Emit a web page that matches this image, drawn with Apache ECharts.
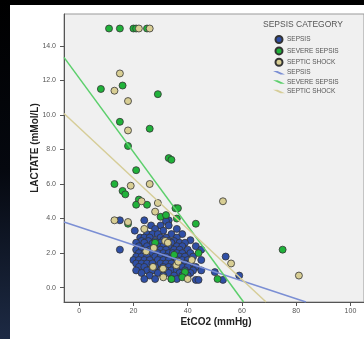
<!DOCTYPE html>
<html>
<head>
<meta charset="utf-8">
<script src="https://cdn.jsdelivr.net/npm/echarts@6/dist/echarts.min.js"></script>
<style>
  html, body { margin: 0; padding: 0; background: #000; }
  #chart { width: 364px; height: 339px; }
</style>
</head>
<body>
<div id="chart"></div>
<script>
// axis ticks
const xTicks = [0, 20, 40, 60, 80, 100]
const yTicks = [0, 2, 4, 6, 8, 10, 12, 14]

// [EtCO2, lactate]
const sepsisPts = [
  [15, 3.9], [24, 3.9], [33, 3.9], [32, 3.85],
  [26.5, 3.6], [30, 3.6], [33, 3.6],
  [28, 3.4], [36, 3.4], [20.5, 3.3], [31, 3.3],
  [25, 3.1], [27, 3.1], [29, 3.1], [34, 3.1], [38, 3.1],
  [22.5, 2.9], [24, 2.9], [26, 2.9], [30, 2.9], [32, 2.9], [36, 2.9],
  [23, 2.7], [25.5, 2.7], [28, 2.7], [31, 2.75], [33, 2.7], [35, 2.7], [41, 2.75],
  [21, 2.6], [24, 2.6], [27, 2.55], [30, 2.6], [34, 2.6], [37, 2.6], [39, 2.6],
  [22, 2.4], [25, 2.4], [29, 2.4], [31, 2.4], [33, 2.4], [36, 2.4], [38, 2.4], [43, 2.4],
  [15, 2.2], [21, 2.2], [23, 2.2], [26, 2.2], [28, 2.2], [30, 2.2], [32, 2.2], [35, 2.2], [37, 2.2], [40, 2.2], [45, 2.2],
  [22, 2.0], [24, 2.0], [27, 2.0], [29, 2.0], [31, 2.0], [33, 2.0], [34.5, 2.0], [36, 2.0], [38, 2.0], [41, 2.0],
  [21, 1.8], [23, 1.8], [25, 1.8], [28, 1.8], [30, 1.8], [32, 1.8], [35, 1.8], [37, 1.8], [39, 1.8], [42, 1.8], [54, 1.8],
  [20, 1.6], [22, 1.6], [24, 1.6], [26, 1.6], [29, 1.6], [31, 1.6], [33, 1.6], [36, 1.6], [38, 1.6], [40, 1.6], [45, 1.6],
  [21, 1.4], [23, 1.4], [25, 1.4], [27, 1.4], [30, 1.4], [32, 1.4], [34, 1.4], [37, 1.4], [39, 1.4], [41, 1.4],
  [22, 1.2], [24, 1.2], [28, 1.2], [31, 1.2], [33, 1.2], [35, 1.2], [38, 1.2], [40, 1.2], [43, 1.2],
  [21, 1.0], [25, 1.0], [27, 1.0], [30, 1.0], [32, 1.0], [34, 1.0], [36, 1.0], [39, 1.0], [42, 1.0], [45, 1.0],
  [23, 0.85], [29, 0.85], [33, 0.85], [37, 0.85], [41, 0.85], [50, 0.9],
  [26, 0.7], [31, 0.7], [35, 0.7], [38, 0.7], [40, 0.7], [59, 0.7],
  [24, 0.5], [28, 0.5], [34, 0.5], [36, 0.5], [43, 0.45], [44, 0.45], [53, 0.45]
]
const severePts = [
  [11, 15], [15, 15], [20, 15], [21, 15], [25, 15],
  [8, 11.5], [16, 11.7], [29, 11.2], [15, 9.6], [26, 9.2], [18, 8.2],
  [33, 7.5], [34, 7.4], [21, 6.8], [13, 6.0], [16, 5.6], [17, 5.4],
  [22, 5.1], [21, 4.8], [25, 4.8], [35.5, 4.6], [36.4, 4.6], [30, 4.1], [32, 4.2],
  [36, 4.0], [43, 3.7], [18, 3.7], [28, 2.6], [35, 1.9], [44, 2.0], [75, 2.2],
  [39, 0.9], [34, 0.5], [38, 0.6], [51, 0.5]
]
const shockPts = [
  [22, 15], [26, 15], [15, 12.4], [13, 11.4], [18, 10.8], [18, 9.1],
  [19, 5.9], [26, 6.0], [23, 5.0], [29, 4.9], [28, 4.4], [53, 5.0],
  [13, 3.9], [18, 3.8], [24, 3.4], [24.7, 2.1], [27.5, 2.3], [31.7, 2.7], [32.7, 2.6],
  [27.2, 1.2], [30.9, 1.1], [31, 0.6], [35.8, 1.3], [36.5, 1.5], [41.5, 1.6],
  [40, 0.5], [56, 1.4], [81, 0.7]
]

// fit line end points (edge of plot)
const sepsisFit = [[-5.6, 3.8], [83.6, -0.83]]
const severeFit = [[-5.6, 13.33], [60.6, -0.83]]
const shockFit = [[-5.6, 10.08], [68.9, -0.83]]

const font = 'Liberation Sans, Arial, sans-serif'
const lineIcon = 'path://M0,0L4.5,0L12,3.5L7.5,3.5Z'

const chart = echarts.init(document.getElementById('chart'), null, { renderer: 'canvas' })

const scatter = (name, data, color) => ({
  name,
  type: 'scatter',
  data,
  symbolSize: 7,
  itemStyle: { color, borderColor: '#333', borderWidth: 0.8, opacity: 1 },
  z: 2
})

const fit = (name, data, color) => ({
  name,
  type: 'line',
  data,
  showSymbol: false,
  symbol: 'none',
  itemStyle: { color },
  lineStyle: { color, width: 1.5 },
  z: 3
})

const option = {
  animation: false,
  backgroundColor: new echarts.graphic.LinearGradient(0, 0, 0, 1, [
    { offset: 0, color: '#000000' },
    { offset: 0.5, color: '#05080f' },
    { offset: 1, color: '#1d2a44' }
  ]),
  graphic: [
    {
      type: 'rect',
      shape: { x: 10, y: 5, width: 354, height: 334 },
      style: { fill: '#ffffff' },
      z: -10
    },
    {
      type: 'text',
      x: 35, y: 148,
      rotation: Math.PI / 2,
      style: {
        text: 'LACTATE (mMol/L)',
        font: 'bold 10px ' + font,
        fill: '#222',
        align: 'center',
        verticalAlign: 'middle'
      }
    },
    {
      type: 'text',
      x: 216, y: 322,
      style: {
        text: 'EtCO2 (mmHg)',
        font: 'bold 10px ' + font,
        fill: '#222',
        align: 'center',
        verticalAlign: 'middle'
      }
    }
  ],
  title: {
    text: 'SEPSIS CATEGORY',
    left: 263,
    top: 20,
    padding: 0,
    textStyle: { fontSize: 8.5, fontWeight: 'normal', color: '#555', fontFamily: font }
  },
  legend: {
    orient: 'vertical',
    left: 273,
    top: 35,
    padding: 0,
    itemWidth: 12,
    itemHeight: 7,
    itemGap: 2.4,
    textStyle: { fontSize: 6.5, color: '#555', fontFamily: font, padding: [0, 0, 0, -3] },
    formatter: name => name.replace(' fit', ''),
    data: [
      { name: 'SEPSIS', icon: 'circle' },
      { name: 'SEVERE SEPSIS', icon: 'circle' },
      { name: 'SEPTIC SHOCK', icon: 'circle' },
      { name: 'SEPSIS fit', icon: lineIcon },
      { name: 'SEVERE SEPSIS fit', icon: lineIcon },
      { name: 'SEPTIC SHOCK fit', icon: lineIcon }
    ]
  },
  grid: {
    left: 64,
    top: 14,
    right: -1,
    bottom: 37,
    show: true,
    backgroundColor: '#f0f0f0',
    borderColor: '#999',
    borderWidth: 1
  },
  xAxis: {
    type: 'value',
    min: -5.6,
    max: 105,
    axisLine: { show: true, onZero: false, lineStyle: { color: '#555', width: 1 } },
    axisTick: { show: true, length: 4, customValues: xTicks, lineStyle: { color: '#555' } },
    axisLabel: { customValues: xTicks, fontSize: 7, color: '#555', margin: 6, fontFamily: font },
    splitLine: { show: false }
  },
  yAxis: {
    type: 'value',
    min: -0.83,
    max: 15.84,
    axisLine: { show: true, onZero: false, lineStyle: { color: '#555', width: 1 } },
    axisTick: { show: true, length: 4, customValues: yTicks, lineStyle: { color: '#555' } },
    axisLabel: {
      customValues: yTicks,
      fontSize: 7,
      color: '#555',
      margin: 8,
      fontFamily: font,
      formatter: v => v.toFixed(1)
    },
    splitLine: { show: false }
  },
  series: [
    scatter('SEPSIS', sepsisPts, '#2f4fa6'),
    scatter('SEVERE SEPSIS', severePts, '#20b23a'),
    scatter('SEPTIC SHOCK', shockPts, '#d8ce94'),
    fit('SEPSIS fit', sepsisFit, '#7b8fd4'),
    fit('SEVERE SEPSIS fit', severeFit, '#5ccf6c'),
    fit('SEPTIC SHOCK fit', shockFit, '#d6cd98')
  ]
}

chart.setOption(option)
</script>
</body>
</html>
